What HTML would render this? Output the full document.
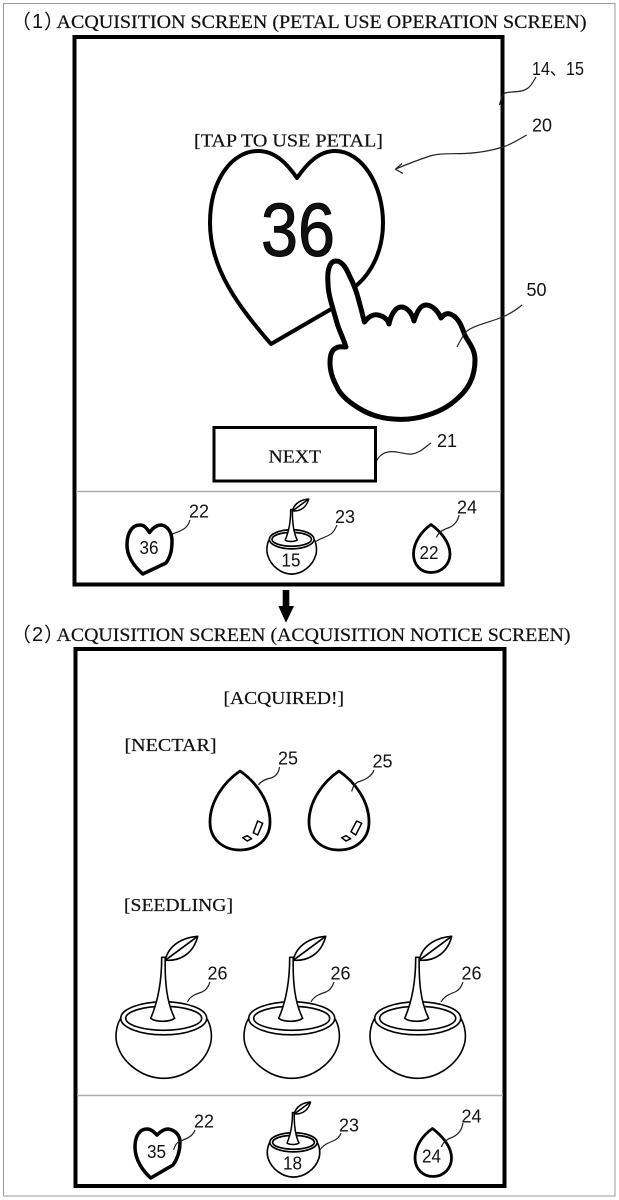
<!DOCTYPE html>
<html><head><meta charset="utf-8"><style>html,body{margin:0;padding:0;background:#fff}svg{display:block}
.s{font-family:"Liberation Serif","Noto Serif CJK JP",serif;fill:#111;stroke:#111;stroke-width:.2}
.n{font-family:"Liberation Sans","Noto Sans CJK JP",sans-serif;fill:#111}
.l{fill:none;stroke:#222;stroke-width:1.2}
.o{fill:#fff;stroke:#000;stroke-linejoin:round;stroke-linecap:round}
</style></head><body>
<svg width="619" height="1200" viewBox="0 0 619 1200" xmlns="http://www.w3.org/2000/svg">
<defs>
<g id="bowl" fill="#fff" stroke="#000" stroke-linejoin="round">
<path d="M-43,16C-48,24-49,36-46,44C-40,62-20,76 0,76C20,76 40,62 46,44C49,36 48,24 43,16Z"/>
<ellipse cx="0" cy="16" rx="43" ry="16.5"/>
<ellipse cx="0" cy="16" rx="38" ry="12"/>
</g>
<g id="plant" fill="#fff" stroke="#000" stroke-linejoin="round">
<path d="M-2,-45L1.5,-45C1,-20 3,0 11,16C5,20-8,20-13,16C-6,0-2,-20-2,-45Z"/>
<path d="M1.5,-42C5,-58 20,-65 34,-66C30,-50 18,-41 1.5,-42Z"/>
<path d="M1.5,-42L34,-66" fill="none"/>
</g>
</defs>
<rect x="3.5" y="3.5" width="611.5" height="1192.5" fill="#fff" stroke="#999" stroke-width="1"/>
<rect x="74.5" y="37" width="428" height="547.5" fill="#fff" stroke="#000" stroke-width="4"/>
<rect x="75.5" y="649" width="429" height="537" fill="#fff" stroke="#000" stroke-width="4"/>
<path d="M76,491.5H501M77,1095.5H503" stroke="#aaa" stroke-width="1.5" fill="none"/>

<text class="n" x="11" y="28.5" font-size="20">（</text><text class="n" x="32" y="28" font-size="20">1</text><text class="n" x="44" y="28.5" font-size="20">）</text>
<text class="s" x="56.5" y="28" font-size="18.5" textLength="530" lengthAdjust="spacingAndGlyphs">ACQUISITION SCREEN (PETAL USE OPERATION SCREEN)</text>
<text class="n" x="11" y="641.5" font-size="20">（</text><text class="n" x="32" y="641" font-size="20">2</text><text class="n" x="44" y="641.5" font-size="20">）</text>
<text class="s" x="56.5" y="641" font-size="18.5" textLength="514" lengthAdjust="spacingAndGlyphs">ACQUISITION SCREEN (ACQUISITION NOTICE SCREEN)</text>

<text class="s" x="194" y="146.5" font-size="18" textLength="189" lengthAdjust="spacingAndGlyphs">[TAP TO USE PETAL]</text>
<path class="o" stroke-width="4" d="M271,344C240,308 210,270 210,223C210,180 232,151 258,151C276,151 288,165 297,178C306,165 318,151 335,151C362,151 383,185 383,223C383,250 372,272 357,285L333,308Z"/>
<text class="n" x="261" y="256" font-size="75" textLength="74" lengthAdjust="spacingAndGlyphs" fill="#000" stroke="#000" stroke-width="1">36</text>
<path class="o" stroke-width="5" d="M346,347C342,335 339,330 337,323C333,308 328,295 328,283C327,272 329,261 336,261C343,261 347,270 350,277C355,286 358,297 360,305C362,312 363,317 364.5,322C369,316 374,314 378,315C384,316 388,320 389,324C391,314 396,307 401,307C407,307 412,313 414,321C417,311 421,305 426,305C432,305 438,311 441,318C444,314 447,313 450,314C457,316 461,324 464,333C466,340 475,347 475,360C475,373 471,384 463,393C452,405 441,411 428,415C416,419 404,420 393,419C378,418 366,413 357,407C346,400 340,394 337,387C332,378 330,371 330,363C330,354 332,350 336,348C339,346 342,347 346,347Z"/>
<path class="l" d="M457,347C460,341 463,335 467,331C475,325 490,322 500,318C508,315 516,310 522,305"/>
<text class="n" x="526.5" y="296" font-size="18" textLength="20" lengthAdjust="spacingAndGlyphs">50</text>

<path class="l" d="M526.7,135C518,140 510,145 503,147C490,151 478,153 465,153.5C450,154 440,153 430,156C418,160 405,165 396,169M402,163.5L395.5,169.3L403,173.5"/>
<text class="n" x="532" y="131.5" font-size="18" textLength="20" lengthAdjust="spacingAndGlyphs">20</text>
<path class="l" d="M499.5,105C501,99 502,95 505,93C512,91 522,93 528,88C532,85 534,80 536,77"/>
<text class="n" x="532" y="75" font-size="18" textLength="52" lengthAdjust="spacingAndGlyphs">14、15</text>

<rect x="214" y="427.5" width="161.5" height="53.5" fill="#fff" stroke="#000" stroke-width="3"/>
<text class="s" x="268.5" y="462.5" font-size="18" textLength="52.5" lengthAdjust="spacingAndGlyphs">NEXT</text>
<path class="l" d="M376.7,460.7C379,456 383,453 388,452C396,450 404,455 412,454C420,453 425,447 431,443"/>
<text class="n" x="437" y="447" font-size="18" textLength="20" lengthAdjust="spacingAndGlyphs">21</text>

<path class="o" stroke-width="3.5" d="M142.7,574C136,568 127,558 127,545C127,533 132,525 140,525C145,525 147,529 149.5,532.5C152,529 156,525 161.5,525C168,526 172,533 172,541C172,549 171,556 166,563L142.7,574Z"/>
<text class="n" x="139.5" y="554" font-size="18" textLength="19" lengthAdjust="spacingAndGlyphs">36</text>
<path class="l" d="M172,534C178,532 184,530 187,526C189,524 189,522 190,520"/>
<text class="n" x="189" y="517.5" font-size="18" textLength="20" lengthAdjust="spacingAndGlyphs">22</text>
<use href="#bowl" transform="translate(291.7,530) scale(.52,.58)" stroke-width="3"/>
<use href="#plant" transform="translate(291.7,532) scale(.5)" stroke-width="3"/>
<text class="n" x="281.5" y="566.5" font-size="18" textLength="19" lengthAdjust="spacingAndGlyphs">15</text>
<path class="l" d="M315,542C320,538 328,537 332,533C335,530 336,527 337,525"/>
<text class="n" x="335" y="523" font-size="18" textLength="20" lengthAdjust="spacingAndGlyphs">23</text>
<path class="o" stroke-width="2.8" d="M431,524.5C422,531 413.5,542 413.5,554C413.5,565 421,572.5 431,572.5C442,572.5 450,564 450,554C450,542 440,531 431,524.5Z"/>
<text class="n" x="419.5" y="559" font-size="18" textLength="19" lengthAdjust="spacingAndGlyphs">22</text>
<path class="l" d="M436.5,537.5C438,533 442,530 448,528C454,526 458,521 459,515"/>
<text class="n" x="457" y="513.5" font-size="18" textLength="20" lengthAdjust="spacingAndGlyphs">24</text>

<text class="s" x="223.5" y="704" font-size="18" textLength="120.5" lengthAdjust="spacingAndGlyphs">[ACQUIRED!]</text>
<text class="s" x="124.5" y="751" font-size="18" textLength="92" lengthAdjust="spacingAndGlyphs">[NECTAR]</text>
<text class="s" x="124" y="911" font-size="18" textLength="109" lengthAdjust="spacingAndGlyphs">[SEEDLING]</text>

<path class="o" stroke-width="2.8" d="M240,771C224,782 210,801 210,822C210,840 224,850 240,850C257,850 270,839 270,822C270,801 256,782 240,771Z"/>
<path class="o" stroke-width="1.5" d="M257.7,821L262.7,823.3L257.7,835L253.3,832.7Z M242.7,837.7L247.3,835.7L251.7,838.7L247.3,841Z"/>
<path class="l" d="M258.5,785C261,781 266,779 271,778C277,776 279,771 279.5,767"/>
<text class="n" x="278" y="764.5" font-size="18" textLength="20" lengthAdjust="spacingAndGlyphs">25</text>
<path class="o" stroke-width="2.8" d="M339,771C323,782 309,801 309,822C309,840 323,850 339,850C356,850 369,839 369,822C369,801 355,782 339,771Z"/>
<path class="o" stroke-width="1.5" d="M356.7,821L361.7,823.3L355.7,835L351,831.7Z M341.7,837.7L346,835.7L350.7,838.7L346,841Z"/>
<path class="l" d="M351.7,791.5C353,787 354,784 358,782C365,780 372,776 374,770"/>
<text class="n" x="372.5" y="767.5" font-size="18" textLength="20" lengthAdjust="spacingAndGlyphs">25</text>

<use href="#bowl" transform="translate(163.7,1002.3)" stroke-width="1.6"/><use href="#plant" transform="translate(163.7,1002.3)" stroke-width="1.6"/>
<use href="#bowl" transform="translate(291.7,1002.3)" stroke-width="1.6"/><use href="#plant" transform="translate(291.7,1002.3)" stroke-width="1.6"/>
<use href="#bowl" transform="translate(417.7,1002.3)" stroke-width="1.6"/><use href="#plant" transform="translate(417.7,1002.3)" stroke-width="1.6"/>
<path class="l" d="M187.5,1002C190,996 196,994 202,992C207,990 209,985 210,982"/>
<path class="l" d="M311,1002C314,996 320,994 326,992C331,990 333,985 334,982"/>
<path class="l" d="M441,1002C444,996 450,994 455,992C460,990 462,985 463,982"/>
<text class="n" x="207.5" y="979.5" font-size="18" textLength="20" lengthAdjust="spacingAndGlyphs">26</text>
<text class="n" x="330.5" y="979.5" font-size="18" textLength="20" lengthAdjust="spacingAndGlyphs">26</text>
<text class="n" x="461.5" y="979.5" font-size="18" textLength="20" lengthAdjust="spacingAndGlyphs">26</text>

<path class="o" stroke-width="3.5" d="M150.7,1178C143,1171 135,1160 135,1147C135,1137 139,1129 147,1129C151,1129 154,1132 157,1135C160,1132 164,1129 168,1129C175,1130 180,1135 180,1142C180,1150 178,1158 173,1165L150.7,1178Z"/>
<text class="n" x="147" y="1158" font-size="18" textLength="19" lengthAdjust="spacingAndGlyphs">35</text>
<path class="l" d="M173.5,1150C175,1146 176,1143 180,1141C187,1139 193,1136 195,1130"/>
<text class="n" x="194" y="1127.5" font-size="18" textLength="20" lengthAdjust="spacingAndGlyphs">22</text>
<use href="#bowl" transform="translate(293.5,1133) scale(.55,.58)" stroke-width="3"/>
<use href="#plant" transform="translate(293.5,1135) scale(.5)" stroke-width="3"/>
<text class="n" x="283" y="1169.5" font-size="18" textLength="19" lengthAdjust="spacingAndGlyphs">18</text>
<path class="l" d="M320,1150C323,1145 328,1143 333,1141C338,1139 340,1136 341,1133"/>
<text class="n" x="339" y="1131.5" font-size="18" textLength="20" lengthAdjust="spacingAndGlyphs">23</text>
<path class="o" stroke-width="2.8" d="M432.5,1128.5C423,1135 415,1146 415,1158C415,1169 423,1176.5 433,1176.5C444,1176.5 451.5,1168 451.5,1158C451.5,1146 441,1135 432.5,1128.5Z"/>
<text class="n" x="422" y="1162.5" font-size="18" textLength="19" lengthAdjust="spacingAndGlyphs">24</text>
<path class="l" d="M441.5,1147C443,1142 447,1139 453,1137C459,1134 462,1129 463,1123"/>
<text class="n" x="461.5" y="1122.5" font-size="18" textLength="20" lengthAdjust="spacingAndGlyphs">24</text>

<path d="M282.7,590H289.3V606H294L286,622.7L278.3,606H282.7Z" fill="#000"/>
</svg>
</body></html>
